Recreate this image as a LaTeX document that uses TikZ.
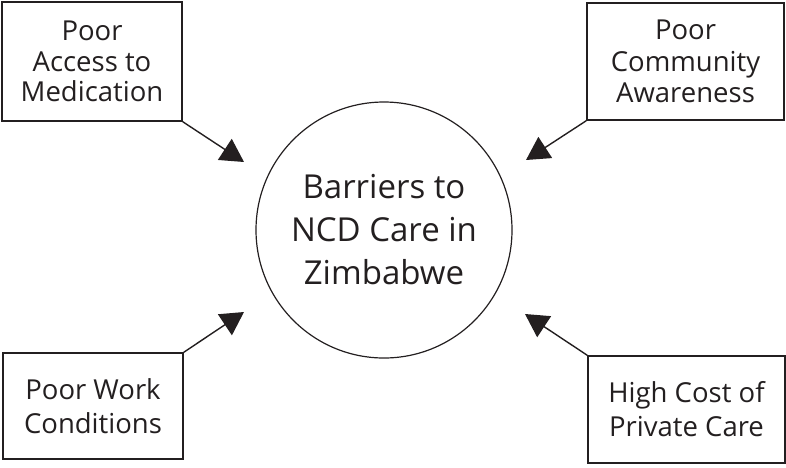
\documentclass[tikz,border=0pt]{standalone}
\usepackage{fontspec}
\setmainfont{Open Sans}
\usetikzlibrary{arrows.meta}
\definecolor{ink}{HTML}{231F20}
\begin{document}
\begin{tikzpicture}[x=1pt,y=-1pt,
  box/.style={draw=ink,line width=1.4pt,rectangle,inner sep=0pt,align=center,text=ink},
  hub/.style={draw=ink,line width=1.2pt,circle,minimum size=256pt,inner sep=0pt,align=center,
    font=\fontsize{33}{43}\selectfont,text=ink},
  arr/.style={draw=ink,line width=1.4pt,-{Triangle[length=23pt,width=25pt]}}]
\useasboundingbox (0,0) rectangle (786,467);
\node[hub] (c) at (384,230) {Barriers to\\NCD Care in\\Zimbabwe};
\node[box,minimum width=180pt,minimum height=119pt,font=\fontsize{27.5}{30.5}\selectfont] (tl) at (92,61.5) {Poor\\Access to\\Medication};
\node[box,minimum width=197pt,minimum height=117pt,font=\fontsize{27.5}{31.5}\selectfont] (tr) at (685.5,61.5) {Poor\\Community\\Awareness};
\node[box,minimum width=180pt,minimum height=106pt,font=\fontsize{27.5}{34}\selectfont] (bl) at (93,406) {Poor Work\\Conditions};
\node[box,minimum width=197pt,minimum height=107pt,font=\fontsize{27.5}{34}\selectfont] (br) at (686.5,409.5) {High Cost of\\Private Care};
\coordinate (tltip) at (244,162);
\coordinate (trtip) at (526,160);
\coordinate (bltip) at (244,312);
\coordinate (brtip) at (525,314);
\draw[arr] (tl.south east) -- (tltip);
\draw[arr] (tr.south west) -- (trtip);
\draw[arr] (bl.north east) -- (bltip);
\draw[arr] (br.north west) -- (brtip);
\end{tikzpicture}
\end{document}
